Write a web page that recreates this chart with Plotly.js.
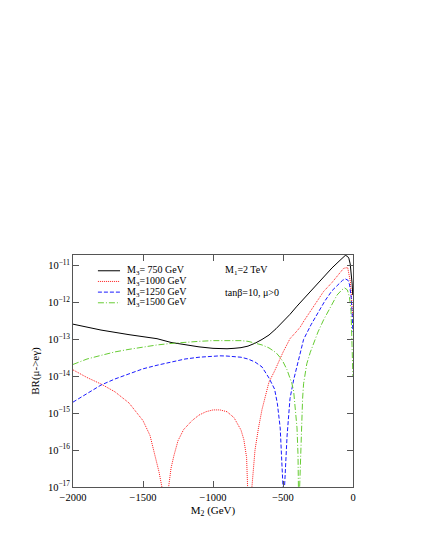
<!DOCTYPE html>
<html>
<head>
<meta charset="utf-8">
<script src="https://cdn.plot.ly/plotly-3.0.1.min.js"></script>
<style>
  html, body { margin: 0; padding: 0; background: #fff; }
  #plot { width: 425px; height: 550px; }
</style>
</head>
<body>
<div id="plot"></div>
<script>
// BR(mu -> e gamma) vs M2, four gluino masses
const xM750 = [-2000, -1800, -1600, -1400, -1300, -1200, -1100, -1000, -950, -900, -850, -800, -750, -700, -650, -600, -550, -500, -450, -400, -350, -300, -250, -200, -150, -100, -75, -55, -40, -30, -20, -12, -6, -2]
const brM750 = [2.6e-13, 1.8e-13, 1.35e-13, 1.05e-13, 8.3e-14, 7.2e-14, 6.3e-14, 5.75e-14, 5.6e-14, 5.6e-14, 5.75e-14, 6.0e-14, 6.6e-14, 7.9e-14, 1.0e-13, 1.32e-13, 1.95e-13, 3.0e-13, 4.8e-13, 8.0e-13, 1.3e-12, 2.1e-12, 3.5e-12, 5.5e-12, 8.7e-12, 1.32e-11, 1.66e-11, 1.9e-11, 1.8e-11, 1.6e-11, 1.12e-11, 6.3e-12, 3.2e-12, 1.6e-12]

const xM1000 = [-2000, -1900, -1800, -1700, -1600, -1550, -1500, -1450, -1410, -1385, -1365, -1340, -1317, -1300, -1280, -1250, -1210, -1150, -1100, -1050, -1000, -950, -900, -850, -800, -780, -760, -747, -735, -722, -715, -700, -675, -650, -600, -560, -500, -471, -450, -400, -376, -350, -300, -250, -210, -150, -114, -67, -38, -19, -8, -2]
const brM1000 = [1.5e-14, 9.3e-15, 6.2e-15, 3.8e-15, 1.9e-15, 1.1e-15, 6.3e-16, 2.5e-16, 6.5e-17, 2.5e-17, 1e-17, 1e-19, 1e-17, 3.2e-17, 6.9e-17, 1.8e-16, 3.6e-16, 6.3e-16, 8.9e-16, 1.1e-15, 1.23e-15, 1.23e-15, 1.1e-15, 7.6e-16, 3.5e-16, 1.95e-16, 6.3e-17, 1e-17, 1e-19, 1e-17, 2.5e-17, 1e-16, 4e-16, 1.26e-15, 7e-15, 1.4e-14, 4.5e-14, 7.2e-14, 1.05e-13, 1.7e-13, 2.2e-13, 3.2e-13, 6.3e-13, 1.26e-12, 2.0e-12, 3.5e-12, 5.0e-12, 8.5e-12, 8.9e-12, 3.7e-12, 1.0e-12, 4e-13]

const xM1250 = [-2000, -1900, -1800, -1700, -1600, -1500, -1400, -1300, -1200, -1100, -1000, -950, -900, -800, -750, -700, -650, -600, -560, -540, -520, -507, -500, -495, -489, -471, -450, -424, -400, -353, -300, -250, -200, -150, -100, -75, -55, -35, -24, -12, -5, -1]
const brM1250 = [2.0e-15, 3.5e-15, 5.8e-15, 8.5e-15, 1.17e-14, 1.6e-14, 2.0e-14, 2.45e-14, 2.95e-14, 3.3e-14, 3.55e-14, 3.6e-14, 3.55e-14, 3.3e-14, 2.95e-14, 2.45e-14, 1.8e-14, 9e-15, 4.5e-15, 1.8e-15, 4e-16, 5e-17, 1e-17, 1e-19, 1e-17, 2.4e-16, 2.5e-15, 8e-15, 2e-14, 1e-13, 2.5e-13, 5.4e-13, 1.12e-12, 2.1e-12, 3.2e-12, 4e-12, 4.4e-12, 4e-12, 3e-12, 1.26e-12, 4e-13, 1.6e-13]

const xM1500 = [-2000, -1900, -1800, -1700, -1600, -1500, -1400, -1300, -1200, -1100, -1000, -900, -800, -750, -700, -650, -600, -550, -519, -500, -471, -450, -436, -424, -410, -400, -393, -385, -383, -381, -371, -360, -353, -330, -305, -281, -250, -210, -160, -114, -80, -60, -40, -25, -14, -7, -2, -0.5]
const brM1500 = [2.1e-14, 2.95e-14, 3.7e-14, 4.6e-14, 5.4e-14, 6.3e-14, 7.1e-14, 7.8e-14, 8.5e-14, 8.9e-14, 9.3e-14, 9.5e-14, 9.3e-14, 8.9e-14, 8.1e-14, 7.1e-14, 5.9e-14, 4.4e-14, 3.2e-14, 2.5e-14, 1.5e-14, 8.9e-15, 6.3e-15, 4e-15, 1.26e-15, 4e-16, 8e-17, 1e-17, 1e-19, 1e-17, 2.5e-16, 2.5e-15, 6.3e-15, 2.2e-14, 4.5e-14, 7.9e-14, 1.6e-13, 3.4e-13, 7.9e-13, 1.6e-12, 2.2e-12, 2.5e-12, 2.2e-12, 1.4e-12, 5.8e-13, 1.26e-13, 2.5e-14, 1e-14]

const seriesNames = ['M<sub>3</sub>= 750 GeV', 'M<sub>3</sub>=1000 GeV', 'M<sub>3</sub>=1250 GeV', 'M<sub>3</sub>=1500 GeV']
const seriesColors = ['#000000', '#ff1a1a', '#1a1aff', '#66cc33']
const seriesDash = ['solid', '1px,1px', '4px,2px', '6px,2px,1px,2px']

const yTickVals = [1e-17, 1e-16, 1e-15, 1e-14, 1e-13, 1e-12, 1e-11]
const yTickText = ['10<sup>\u221217</sup>', '10<sup>\u221216</sup>', '10<sup>\u221215</sup>', '10<sup>\u221214</sup>', '10<sup>\u221213</sup>', '10<sup>\u221212</sup>', '10<sup>\u221211</sup>']
const xTickVals = [-2000, -1500, -1000, -500, 0]
const xTickText = ['\u22122000', '\u22121500', '\u22121000', '\u2212500', '0']

const xs = [xM750, xM1000, xM1250, xM1500]
const ys = [brM750, brM1000, brM1250, brM1500]

const data = xs.map((x, i) => ({
  x: x,
  y: ys[i],
  mode: 'lines',
  name: seriesNames[i],
  showlegend: false,
  line: { color: seriesColors[i], dash: seriesDash[i], width: 1 }
}))

// minor ticks 2..9 per decade on the log axis
const yMinorVals = []
for (let e = -17; e <= -11; e++) {
  for (let m = 2; m <= 9; m++) yMinorVals.push(m * Math.pow(10, e))
}

const fam = '"Liberation Serif", "Times New Roman", serif'
const frame = '#555'
const txt = { family: fam, size: 10, color: '#000' }

// legend drawn by hand so rows sit as close as in the figure
const legendRows = [0.932, 0.886, 0.840, 0.794]
const shapes = seriesNames.map((n, i) => ({
  type: 'line', xref: 'paper', yref: 'paper',
  x0: 0.089, x1: 0.168, y0: legendRows[i], y1: legendRows[i],
  line: { color: seriesColors[i], dash: seriesDash[i], width: 1 }
}))
const annotations = seriesNames.map((n, i) => ({
  xref: 'paper', yref: 'paper', x: 0.186, y: legendRows[i],
  xanchor: 'left', yanchor: 'middle', showarrow: false,
  text: n, font: txt
}))
annotations.push(
  { xref: 'paper', yref: 'paper', x: 0.535, y: legendRows[0], xanchor: 'left', yanchor: 'middle',
    showarrow: false, text: 'M<sub>1</sub>=2 TeV', font: txt },
  { xref: 'paper', yref: 'paper', x: 0.535, y: legendRows[2], xanchor: 'left', yanchor: 'middle',
    showarrow: false, text: 'tan\u03b2=10, \u03bc>0', font: txt }
)

const layout = {
  width: 425,
  height: 550,
  margin: { l: 73, r: 72, t: 255, b: 63 },
  paper_bgcolor: '#fff',
  plot_bgcolor: '#fff',
  font: txt,
  showlegend: false,
  xaxis: {
    range: [-2000, 0],
    tickvals: xTickVals,
    ticktext: xTickText,
    tickfont: { family: fam, size: 10.5 },
    ticks: 'inside', ticklen: 6, tickcolor: frame,
    showline: true, linecolor: frame, linewidth: 1, mirror: 'allticks',
    showgrid: false, zeroline: false,
    title: { text: 'M<sub>2</sub> (GeV)', font: { family: fam, size: 11 }, standoff: 4 }
  },
  xaxis2: {
    overlaying: 'x', anchor: 'y', range: [-2000, 0],
    tickmode: 'linear', tick0: 0, dtick: 100,
    ticks: 'inside', ticklen: 3, tickcolor: frame,
    showticklabels: false, showline: false, mirror: 'allticks',
    showgrid: false, zeroline: false
  },
  yaxis: {
    type: 'log',
    range: [-17, -10.71],
    tickvals: yTickVals,
    ticktext: yTickText,
    tickfont: { family: fam, size: 10.5 },
    ticks: 'inside', ticklen: 6, tickcolor: frame,
    showline: true, linecolor: frame, linewidth: 1, mirror: 'allticks',
    showgrid: false, zeroline: false,
    title: { text: 'BR(\u03bc->e\u03b3)', font: { family: fam, size: 11 }, standoff: 6 }
  },
  yaxis2: {
    overlaying: 'y', anchor: 'x', type: 'log', range: [-17, -10.71],
    tickvals: yMinorVals,
    ticks: 'inside', ticklen: 3, tickcolor: frame,
    showticklabels: false, showline: false, mirror: 'allticks',
    showgrid: false, zeroline: false
  },
  shapes: shapes,
  annotations: annotations
}

Plotly.newPlot('plot', data, layout, { displayModeBar: false, staticPlot: true })
</script>
</body>
</html>
